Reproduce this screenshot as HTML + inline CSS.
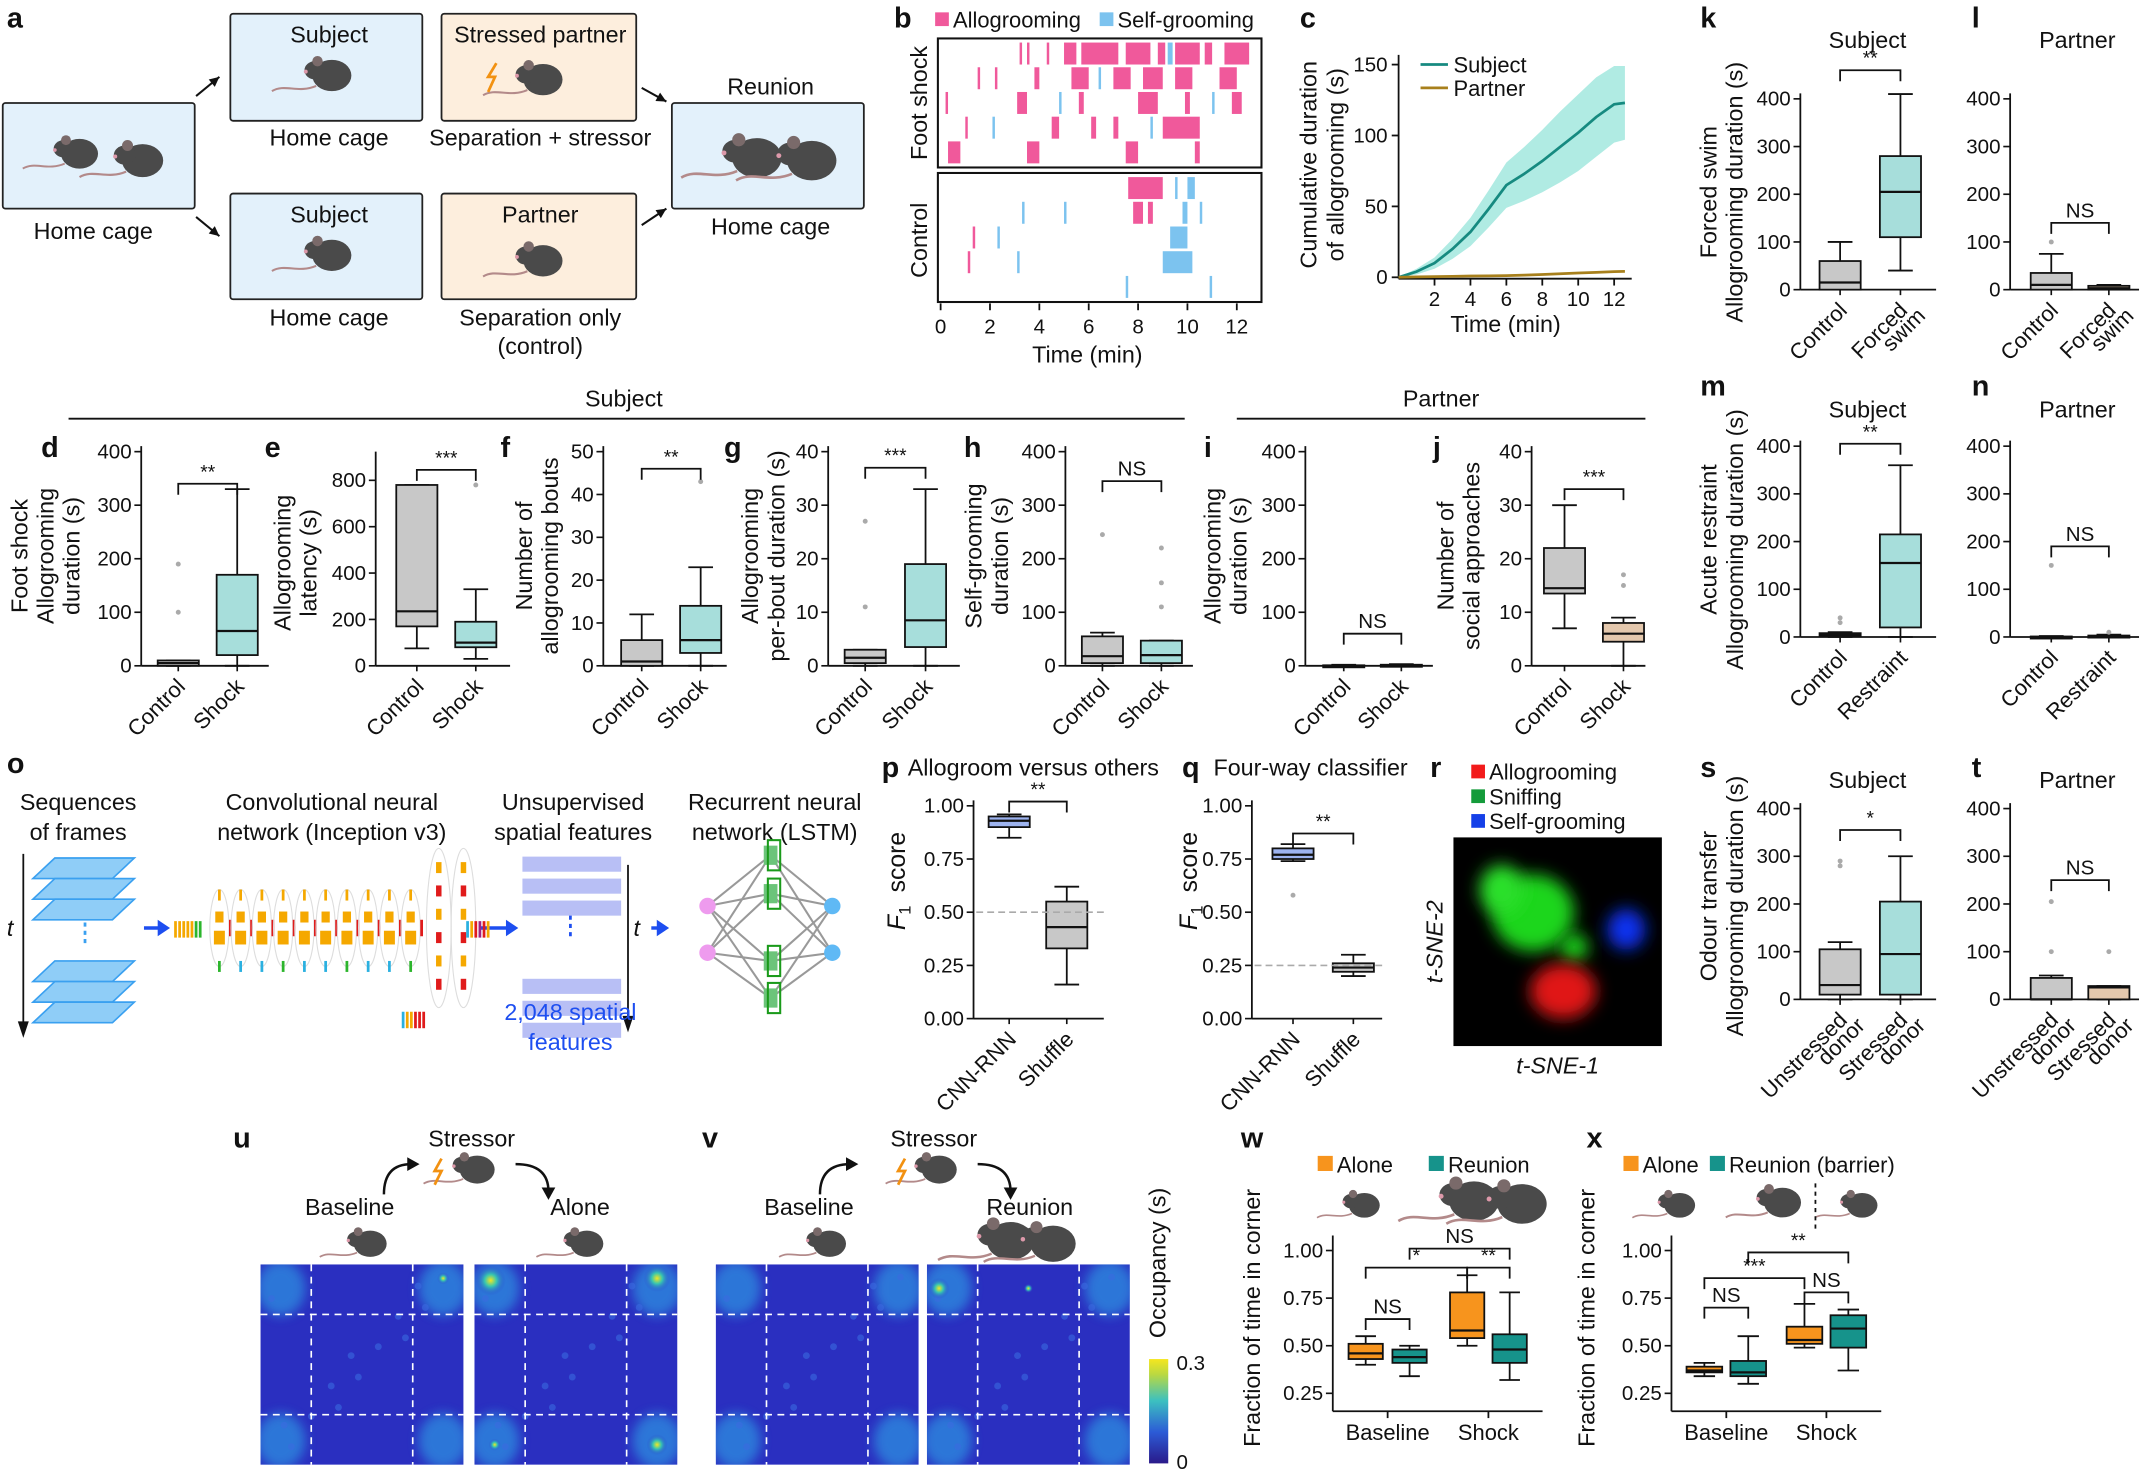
<!DOCTYPE html>
<html><head><meta charset="utf-8"><style>
html,body{margin:0;padding:0;background:#fff;}
svg{display:block;font-family:"Liberation Sans",sans-serif;}
</style></head><body>
<svg id="fig" xmlns="http://www.w3.org/2000/svg" width="2150" height="1473" viewBox="0 0 1568 1073" preserveAspectRatio="none">
<defs>
<filter id="blur8" x="-50%" y="-50%" width="200%" height="200%"><feGaussianBlur stdDeviation="6"/></filter>
<filter id="blur3" x="-50%" y="-50%" width="200%" height="200%"><feGaussianBlur stdDeviation="4"/></filter>
<linearGradient id="viridis" x1="0" y1="1" x2="0" y2="0"><stop offset="0" stop-color="#2a1a8a"/><stop offset="0.3" stop-color="#2c5bd6"/><stop offset="0.6" stop-color="#3cc0c0"/><stop offset="0.85" stop-color="#b9d842"/><stop offset="1" stop-color="#f5e61f"/></linearGradient>
<radialGradient id="hot"><stop offset="0" stop-color="#f3e622"/><stop offset="0.4" stop-color="#37c6b0"/><stop offset="1" stop-color="#2a3fd0" stop-opacity="0"/></radialGradient>
</defs>
</svg>
<script>
const NS='http://www.w3.org/2000/svg';
const svg=document.getElementById('fig');
function el(tag,attrs,parent){const e=document.createElementNS(NS,tag);for(const k in attrs)e.setAttribute(k,attrs[k]);(parent||svg).appendChild(e);return e;}
function txt(x,y,s,size,opts){const o=Object.assign({x:x,y:y,'font-size':size,fill:'#111'},opts||{});const t=el('text',o);t.textContent=s;return t;}
function line(x1,y1,x2,y2,st,w,extra){return el('line',Object.assign({x1:x1,y1:y1,x2:x2,y2:y2,stroke:st||'#111','stroke-width':w||1.3},extra||{}));}

// ---------- panel letters ----------
const letters=[['a',5,20],['b',652,20],['c',948,20],['k',1240,20],['l',1438,20],['d',30,333],['e',193,333],['f',365,333],['g',528,333],['h',703,333],['i',878,333],['j',1045,333],['m',1240,288],['n',1438,288],['o',5,563],['p',643,566],['q',862,566],['r',1043,566],['s',1240,566],['t',1438,566],['u',170,836],['v',512,836],['w',905,836],['x',1157,836]];
letters.forEach(l=>{const t=txt(l[1],l[2],l[0],21,{'font-weight':'bold'});

});

// ---------- mouse icon ----------
function mouse(x,y,s,col,flip){const g=el('g',{transform:`translate(${x},${y}) scale(${flip?-s:s},${s})`});
el('path',{d:'M-12,8 C-26,14 -36,6 -46,12',stroke:'#b38a8a','stroke-width':1.6,fill:'none'},g);
el('ellipse',{cx:0,cy:0,rx:15,ry:12,fill:col||'#4a4a4a'},g);
el('ellipse',{cx:-13,cy:-4,rx:8,ry:7,fill:col||'#4a4a4a'},g);
el('circle',{cx:-11,cy:-11,r:4,fill:'#7a6a6a'},g);
el('circle',{cx:-20,cy:-3,r:1.5,fill:'#d9a'},g);
return g;}

// ---------- panel a ----------
const aBoxes=[[2,75,140,77,'#e3f1fb','home-cage-box'],[168,10,140,78,'#e3f1fb','subject-top-box'],[322,10,142,78,'#fdeedd','stressed-partner-box'],[168,141,140,77,'#e3f1fb','subject-bottom-box'],[322,141,142,77,'#fdeedd','partner-box'],[490,75,140,77,'#e3f1fb','reunion-box']];
aBoxes.forEach(b=>{const r=el('rect',{x:b[0],y:b[1],width:b[2],height:b[3],fill:b[4],stroke:'#222','stroke-width':1.3,rx:2});

});
mouse(58,112,0.9);mouse(104,117,1);mouse(242,55,0.95);mouse(396,58,0.95);mouse(242,186,0.95);mouse(396,190,0.95);
mouse(552,115,1.2);mouse(592,117,1.2);
el('path',{d:'M362,46 l-6,10 h5 l-5,11',stroke:'#f29111','stroke-width':2,fill:'none'});
txt(240,31,'Subject',17,{'text-anchor':'middle'});txt(394,31,'Stressed partner',17,{'text-anchor':'middle'});
txt(240,106,'Home cage',17,{'text-anchor':'middle'});txt(394,106,'Separation + stressor',17,{'text-anchor':'middle'});
txt(240,162,'Subject',17,{'text-anchor':'middle'});txt(394,162,'Partner',17,{'text-anchor':'middle'});
txt(240,237,'Home cage',17,{'text-anchor':'middle'});txt(394,237,'Separation only',17,{'text-anchor':'middle'});txt(394,258,'(control)',17,{'text-anchor':'middle'});
txt(68,174,'Home cage',17,{'text-anchor':'middle'});txt(562,69,'Reunion',17,{'text-anchor':'middle'});txt(562,171,'Home cage',17,{'text-anchor':'middle'});
[[143,70,160,56],[143,158,160,172],[468,64,486,74],[468,164,486,152]].forEach(a=>{line(a[0],a[1],a[2],a[3],'#111',1.5);
const ang=Math.atan2(a[3]-a[1],a[2]-a[0]);const hx=a[2],hy=a[3];
el('path',{d:`M${hx},${hy} L${hx-8*Math.cos(ang-0.45)},${hy-8*Math.sin(ang-0.45)} L${hx-8*Math.cos(ang+0.45)},${hy-8*Math.sin(ang+0.45)}Z`,fill:'#111'});});

// ---------- panel b raster ----------
const bShockPink=[[[3.2,3.3],[3.5,3.6],[4.3,4.4],[5.0,5.5],[5.7,7.2],[7.5,8.5],[8.8,9.1],[9.5,10.5],[10.7,11.0],[11.5,12.5]],[[1.5,1.6],[2.2,2.3],[3.8,4.0],[5.3,6.0],[7.0,7.7],[8.2,9.0],[9.5,10.2],[11.3,12.0]],[[0.2,0.3],[3.1,3.5],[5.6,5.8],[8.0,8.8],[9.9,10.1],[11.8,12.2]],[[1.0,1.1],[4.5,4.8],[6.1,6.3],[7.0,7.2],[9.0,10.5]],[[0.3,0.8],[3.5,4.0],[7.5,8.0],[10.3,10.5]]];
const bShockBlue=[[[9.2,9.4]],[[6.4,6.5]],[[4.8,4.9],[11.0,11.1]],[[2.1,2.2],[8.5,8.6]],[]];
const bCtrlPink=[[[7.6,9.0]],[[7.8,8.2],[8.4,8.6]],[[1.3,1.4]],[[1.1,1.2]],[]];
const bCtrlBlue=[[[9.5,9.6],[10.0,10.3]],[[3.3,3.4],[5.0,5.1],[9.8,10.0],[10.5,10.6]],[[2.3,2.4],[9.3,10.0]],[[3.1,3.2],[9.0,10.2]],[[7.5,7.6],[10.9,11.0]]];
const bTicks=[0,2,4,6,8,10,12];
const bx=t=>686+t*18;
function raster(pink,blue,top,name){const g=el('g',{});


el('rect',{x:684,y:top,width:236,height:94,fill:'#fff',stroke:'#111','stroke-width':1.5},g);
[[pink,'#f0599b'],[blue,'#7cc3ef']].forEach(([set,c])=>set.forEach((row,i)=>row.forEach(iv=>{
el('rect',{x:bx(iv[0]),y:top+3+i*18,width:Math.max(1.2,(iv[1]-iv[0])*18),height:16,fill:c},g);})));}
raster(bShockPink,bShockBlue,28,'raster-foot-shock');raster(bCtrlPink,bCtrlBlue,126,'raster-control');
bTicks.forEach(t=>{line(bx(t),221,bx(t),226);txt(bx(t),243,String(t),15,{'text-anchor':'middle'});});
txt(793,264,'Time (min)',17,{'text-anchor':'middle'});
txt(676,75,'Foot shock',17,{'text-anchor':'middle',transform:'rotate(-90 676 75)'});
txt(676,175,'Control',17,{'text-anchor':'middle',transform:'rotate(-90 676 175)'});
el('rect',{x:682,y:9,width:10,height:10,fill:'#f0599b'});txt(695,20,'Allogrooming',16);
el('rect',{x:802,y:9,width:10,height:10,fill:'#7cc3ef'});txt(815,20,'Self-grooming',16);

// ---------- panel c line chart ----------
const cTimes=[0,1,2,3,4,5,6,7,8,9,10,11,12,12.6];
const cSubject=[0,4,10,20,32,48,65,73,82,92,102,113,122,123];
const cSubjectSem=[0,2,4,7,10,13,16,19,22,25,27,28,27,26];
const cPartner=[0,0.3,0.5,0.7,0.9,1,1.2,1.5,2,2.5,3,3.5,4,4.2];
const cXTicks=[2,4,6,8,10,12];
const cYTicks=[0,50,100,150];
const cx=t=>1020+t*13.1, cy=v=>202-v*1.033;
line(1020,40,1020,203);line(1020,203,1190,203);
cXTicks.forEach(t=>{line(cx(t),203,cx(t),208);txt(cx(t),223,String(t),15,{'text-anchor':'middle'});});
cYTicks.forEach(v=>{line(1015,cy(v),1020,cy(v));txt(1012,cy(v)+5,String(v),15,{'text-anchor':'end'});});
{let up=cTimes.map((t,i)=>`${cx(t)},${cy(cSubject[i]+cSubjectSem[i])}`),dn=cTimes.map((t,i)=>`${cx(t)},${cy(Math.max(0,cSubject[i]-cSubjectSem[i]))}`).reverse();
const band=el('polygon',{points:up.concat(dn).join(' '),fill:'#8fe3d7',opacity:0.7});


const ls=el('polyline',{points:cTimes.map((t,i)=>`${cx(t)},${cy(cSubject[i])}`).join(' '),fill:'none',stroke:'#168a80','stroke-width':2});


const lp=el('polyline',{points:cTimes.map((t,i)=>`${cx(t)},${cy(cPartner[i])}`).join(' '),fill:'none',stroke:'#a8801c','stroke-width':2});

}
txt(1098,242,'Time (min)',17,{'text-anchor':'middle'});
txt(960,120,'Cumulative duration',17,{'text-anchor':'middle',transform:'rotate(-90 960 120)'});
txt(980,120,'of allogrooming (s)',17,{'text-anchor':'middle',transform:'rotate(-90 980 120)'});
line(1036,47,1056,47,'#168a80',2);txt(1060,53,'Subject',16);
line(1036,64,1056,64,'#a8801c',2);txt(1060,70,'Partner',16);

// ---------- section header lines ----------
line(50,305,864,305,'#111',1.3);txt(455,296,'Subject',17,{'text-anchor':'middle'});
line(902,305,1200,305,'#111',1.3);txt(1051,296,'Partner',17,{'text-anchor':'middle'});

// ---------- box plot helper ----------
function boxPanel(name,cfg,cats,stats,outs,colors,ticks){
const g=el('g',{});


const ys=v=>cfg.y0-(v-cfg.vmin)/(cfg.vmax-cfg.vmin)*(cfg.y0-cfg.y1);
const base=cfg.y0+(cfg.gap||0);
el('line',{x1:cfg.ax,y1:cfg.y1-4,x2:cfg.ax,y2:base,stroke:'#111','stroke-width':1.3},g);
el('line',{x1:cfg.ax,y1:base,x2:cfg.xend,y2:base,stroke:'#111','stroke-width':1.3},g);
ticks.forEach(v=>{el('line',{x1:cfg.ax-5,y1:ys(v),x2:cfg.ax,y2:ys(v),stroke:'#111','stroke-width':1.2},g);
const t=el('text',{x:cfg.ax-7,y:ys(v)+5,'font-size':cfg.fs||15,'text-anchor':'end',fill:'#111'},g);t.textContent=cfg.fmt?cfg.fmt(v):String(v);});
const w=cfg.bw||30;
cats.forEach((c,i)=>{const x=cfg.cx[i],s=stats[i];
if(cfg.rot!==false)el('line',{x1:x,y1:base,x2:x,y2:base+4,stroke:'#111','stroke-width':1.2},g);
el('line',{x1:x,y1:ys(s[0]),x2:x,y2:ys(s[4]),stroke:'#111','stroke-width':1.3},g);
el('line',{x1:x-w*0.3,y1:ys(s[0]),x2:x+w*0.3,y2:ys(s[0]),stroke:'#111','stroke-width':1.3},g);
el('line',{x1:x-w*0.3,y1:ys(s[4]),x2:x+w*0.3,y2:ys(s[4]),stroke:'#111','stroke-width':1.3},g);
const b=el('rect',{x:x-w/2,y:ys(s[3]),width:w,height:Math.max(1.5,ys(s[1])-ys(s[3])),fill:colors[i],stroke:'#111','stroke-width':1.3},g);


el('line',{x1:x-w/2,y1:ys(s[2]),x2:x+w/2,y2:ys(s[2]),stroke:'#111','stroke-width':1.6},g);
(outs[i]||[]).forEach(o=>el('circle',{cx:x,cy:ys(o),r:1.8,fill:'#aaa'},g));
if(cfg.rot!==false){const lines=c.split('|');lines.forEach((ln,k)=>{const tx=x+6+k*13,ty=base+16+k*4;
const t=el('text',{x:tx,y:ty,'font-size':cfg.lfs||16,'text-anchor':'end',fill:'#111',transform:`rotate(-45 ${tx} ${ty})`},g);t.textContent=ln;});}
});
if(cfg.sig){cfg.sig.forEach(sg=>{const yy=ys(sg[2]);
el('path',{d:`M${sg[0]},${yy+8} V${yy} H${sg[1]} V${yy+8}`,fill:'none',stroke:'#111','stroke-width':1.3},g);
const t=el('text',{x:(sg[0]+sg[1])/2,y:yy-4,'font-size':sg[3]==='NS'?15:14,'text-anchor':'middle',fill:'#111'},g);t.textContent=sg[3];});}
(cfg.ytitle||[]).forEach((tl,k)=>{const tx=cfg.tx+k*19,ty=cfg.ty;
const t=el('text',{x:tx,y:ty,'font-size':17,'text-anchor':'middle',fill:'#111',transform:`rotate(-90 ${tx} ${ty})`},g);t.textContent=tl;});
return ys;}
const GRAY='#c8c8c8',TEAL='#a7dedb',TAN='#e4c8ad',ORANGE='#f7941d',DTEAL='#16938b';
const t400=[0,100,200,300,400],t800=[0,200,400,600,800],t50=[0,10,20,30,40,50],t40=[0,10,20,30,40];

// d
const dCats=['Control','Shock'];const dStats=[[0,0,5,10,10],[0,20,65,170,330]];const dOuts=[[100,190],[]];
boxPanel('panel-d-boxplot',{ax:103,xend:196,y0:485,y1:329,vmin:0,vmax:400,cx:[130,173],sig:[[130,173,340,'**']],ytitle:['Foot shock','Allogrooming','duration (s)'],tx:20,ty:405},dCats,dStats,dOuts,[GRAY,TEAL],t400);
// e
const eCats=['Control','Shock'];const eStats=[[75,170,235,780,780],[30,80,100,190,330]];const eOuts=[[],[780]];
boxPanel('panel-e-boxplot',{ax:274,xend:372,y0:485,y1:333,vmin:0,vmax:900,cx:[304,347],sig:[[304,347,845,'***']],ytitle:['Allogrooming','latency (s)'],tx:212,ty:410},eCats,eStats,eOuts,[GRAY,TEAL],t800);
// f
const fCats=['Control','Shock'];const fStats=[[0,0,1,6,12],[0,3,6,14,23]];const fOuts=[[],[43]];
boxPanel('panel-f-boxplot',{ax:440,xend:530,y0:485,y1:329,vmin:0,vmax:50,cx:[468,511],sig:[[468,511,46,'**']],ytitle:['Number of','allogrooming bouts'],tx:388,ty:405},fCats,fStats,fOuts,[GRAY,TEAL],t50);
// g
const gCats=['Control','Shock'];const gStats=[[0,0.5,1.5,3,3],[0,3.5,8.5,19,33]];const gOuts=[[11,27],[]];
boxPanel('panel-g-boxplot',{ax:604,xend:700,y0:485,y1:329,vmin:0,vmax:40,cx:[631,675],sig:[[631,675,37,'***']],ytitle:['Allogrooming','per-bout duration (s)'],tx:553,ty:405},gCats,gStats,gOuts,[GRAY,TEAL],t40);
// h
const hCats=['Control','Shock'];const hStats=[[0,5,18,55,62],[0,5,20,47,47]];const hOuts=[[245],[110,155,220]];
boxPanel('panel-h-boxplot',{ax:777,xend:870,y0:485,y1:329,vmin:0,vmax:400,cx:[804,847],sig:[[804,847,345,'NS']],ytitle:['Self-grooming','duration (s)'],tx:716,ty:405},hCats,hStats,hOuts,[GRAY,TEAL],t400);
// i
const iCats=['Control','Shock'];const iStats=[[0,0,0,1,2],[0,0,0,2,3]];const iOuts=[[],[]];
boxPanel('panel-i-boxplot',{ax:952,xend:1045,y0:485,y1:329,vmin:0,vmax:400,cx:[980,1022],sig:[[980,1022,60,'NS']],ytitle:['Allogrooming','duration (s)'],tx:890,ty:405},iCats,iStats,iOuts,[GRAY,TAN],t400);
// j
const jCats=['Control','Shock'];const jStats=[[7,13.5,14.5,22,30],[0,4.5,6,8,9]];const jOuts=[[],[15,17]];
boxPanel('panel-j-boxplot',{ax:1117,xend:1200,y0:485,y1:329,vmin:0,vmax:40,cx:[1141,1184],sig:[[1141,1184,33,'***']],ytitle:['Number of','social approaches'],tx:1060,ty:405},jCats,jStats,jOuts,[GRAY,TAN],t40);
// k
const kCats=['Control','Forced|swim'];const kStats=[[0,0,15,60,100],[40,110,205,280,410]];const kOuts=[[],[]];
boxPanel('panel-k-boxplot',{ax:1313,xend:1412,y0:211,y1:72,vmin:0,vmax:400,cx:[1342,1386],sig:[[1342,1386,460,'**']],ytitle:['Forced swim','Allogrooming duration (s)'],tx:1252,ty:140},kCats,kStats,kOuts,[GRAY,TEAL],t400);
txt(1362,35,'Subject',17,{'text-anchor':'middle'});
// l
const lCats=['Control','Forced|swim'];const lStats=[[0,0,10,35,75],[0,0,3,8,10]];const lOuts=[[100],[]];
boxPanel('panel-l-boxplot',{ax:1466,xend:1560,y0:211,y1:72,vmin:0,vmax:400,cx:[1496,1538],sig:[[1496,1538,140,'NS']],ytitle:[],tx:0,ty:0},lCats,lStats,lOuts,[GRAY,TAN],t400);
txt(1515,35,'Partner',17,{'text-anchor':'middle'});
// m
const mCats=['Control','Restraint'];const mStats=[[0,2,5,8,10],[0,20,155,215,360]];const mOuts=[[30,40],[]];
boxPanel('panel-m-boxplot',{ax:1313,xend:1412,y0:464,y1:325,vmin:0,vmax:400,cx:[1342,1386],sig:[[1342,1386,405,'**']],ytitle:['Acute restraint','Allogrooming duration (s)'],tx:1252,ty:393},mCats,mStats,mOuts,[GRAY,TEAL],t400);
txt(1362,304,'Subject',17,{'text-anchor':'middle'});
// n
const nCats=['Control','Restraint'];const nStats=[[0,0,0,1,2],[0,0,1,3,5]];const nOuts=[[150],[10]];
boxPanel('panel-n-boxplot',{ax:1466,xend:1560,y0:464,y1:325,vmin:0,vmax:400,cx:[1496,1538],sig:[[1496,1538,190,'NS']],ytitle:[],tx:0,ty:0},nCats,nStats,nOuts,[GRAY,TAN],t400);
txt(1515,304,'Partner',17,{'text-anchor':'middle'});
// s
const sCats=['Unstressed|donor','Stressed|donor'];const sStats=[[0,10,30,105,120],[0,10,95,205,300]];const sOuts=[[280,290],[]];
boxPanel('panel-s-boxplot',{ax:1313,xend:1412,y0:728,y1:589,vmin:0,vmax:400,cx:[1342,1386],sig:[[1342,1386,355,'*']],ytitle:['Odour transfer','Allogrooming duration (s)'],tx:1252,ty:660},sCats,sStats,sOuts,[GRAY,TEAL],t400);
txt(1362,574,'Subject',17,{'text-anchor':'middle'});
// t
const tCats=['Unstressed|donor','Stressed|donor'];const tStats=[[0,0,0,45,50],[0,0,25,28,28]];const tOuts=[[100,205],[100]];
boxPanel('panel-t-boxplot',{ax:1466,xend:1560,y0:728,y1:589,vmin:0,vmax:400,cx:[1496,1538],sig:[[1496,1538,250,'NS']],ytitle:[],tx:0,ty:0},tCats,tStats,tOuts,[GRAY,TAN],t400);
txt(1515,574,'Partner',17,{'text-anchor':'middle'});

// p
const f1Ticks=[0,0.25,0.5,0.75,1];const fmt2=v=>v.toFixed(2);
const pCats=['CNN-RNN','Shuffle'];const pStats=[[0.85,0.9,0.93,0.95,0.96],[0.16,0.33,0.43,0.55,0.62]];const pOuts=[[],[]];
const pys=boxPanel('panel-p-boxplot',{ax:710,xend:805,y0:742,y1:587,vmin:0,vmax:1,cx:[736,778],fmt:fmt2,sig:[[736,778,1.02,'**']],ytitle:[],tx:0,ty:0},pCats,pStats,pOuts,['#9db3ef',GRAY],f1Ticks);
line(712,pys(0.5),805,pys(0.5),'#aaa',1.2,{'stroke-dasharray':'5,3'});
txt(662,565,'Allogroom versus others',17);
function f1title(x){txt(x,672,'F',18,{'font-style':'italic',transform:`rotate(-90 ${x} 672)`,'text-anchor':'middle'});
txt(x+4,663,'1',12,{transform:`rotate(-90 ${x+4} 663)`,'text-anchor':'middle'});
txt(x,628,'score',18,{transform:`rotate(-90 ${x} 628)`,'text-anchor':'middle'});}
f1title(660);
// q
const qCats=['CNN-RNN','Shuffle'];const qStats=[[0.74,0.75,0.77,0.8,0.82],[0.2,0.22,0.24,0.26,0.3]];const qOuts=[[0.58],[]];
const qys=boxPanel('panel-q-boxplot',{ax:913,xend:1008,y0:742,y1:587,vmin:0,vmax:1,cx:[943,987],fmt:fmt2,sig:[[943,987,0.87,'**']],ytitle:[],tx:0,ty:0},qCats,qStats,qOuts,['#9db3ef',GRAY],f1Ticks);
line(915,qys(0.25),1008,qys(0.25),'#aaa',1.2,{'stroke-dasharray':'5,3'});
txt(885,565,'Four-way classifier',17);
f1title(873);

// r t-SNE
{const r=el('rect',{x:1060,y:610,width:152,height:152,fill:'#000'});


el('ellipse',{cx:1118,cy:665,rx:30,ry:28,fill:'#1fd61f',filter:'url(#blur8)'});
el('ellipse',{cx:1095,cy:648,rx:16,ry:18,fill:'#2ae02a',filter:'url(#blur8)'});
el('ellipse',{cx:1148,cy:690,rx:10,ry:10,fill:'#1fd61f',filter:'url(#blur8)'});
el('ellipse',{cx:1186,cy:677,rx:14,ry:15,fill:'#1030f0',filter:'url(#blur8)'});
el('ellipse',{cx:1140,cy:722,rx:24,ry:20,fill:'#e01515',filter:'url(#blur8)'});
el('rect',{x:1073,y:557,width:10,height:10,fill:'#f21b1b'});txt(1086,568,'Allogrooming',16);
el('rect',{x:1073,y:575,width:10,height:10,fill:'#149b3a'});txt(1086,586,'Sniffing',16);
el('rect',{x:1073,y:593,width:10,height:10,fill:'#1540e8'});txt(1086,604,'Self-grooming',16);
txt(1136,782,'t-SNE-1',17,{'text-anchor':'middle','font-style':'italic'});
txt(1052,686,'t-SNE-2',17,{'text-anchor':'middle','font-style':'italic',transform:'rotate(-90 1052 686)'});}

// o schematic
{const g=el('g',{});


[['Sequences',57,590],['of frames',57,612],['Convolutional neural',242,590],['network (Inception v3)',242,612],['Unsupervised',418,590],['spatial features',418,612],['Recurrent neural',565,590],['network (LSTM)',565,612]].forEach(s=>txt(s[1],s[2],s[0],17,{'text-anchor':'middle'}));
[625,640,655,700,715,730].forEach(y=>el('path',{d:`M40,${y} L98,${y} L82,${y+15} L24,${y+15}Z`,fill:'#8fcdf7',stroke:'#3aa0f0','stroke-width':1.2}));
line(17,622,17,752,'#111',1.3);el('path',{d:'M13,744 L17,756 L21,744Z',fill:'#111'});txt(5,682,'t',17,{'font-style':'italic'});
line(62,672,62,690,'#3aa0f0',2,{'stroke-dasharray':'3,3'});
[[105,118],[350,372],[475,482]].forEach(a=>{line(a[0],676,a[1],676,'#1d4ef0',2.5);el('path',{d:`M${a[1]+6},676 L${a[1]-3},670 L${a[1]-3},682Z`,fill:'#1d4ef0'});});
for(let i=0;i<10;i++){const x=160+i*15.5;el('ellipse',{cx:x,cy:676,rx:7,ry:28,fill:'none',stroke:'#ddd','stroke-width':0.8});
el('rect',{x:x-3,y:664,width:6,height:8,fill:'#f5a800'});el('rect',{x:x-4,y:678,width:8,height:10,fill:'#f5a800'});
el('rect',{x:x-1,y:648,width:2,height:8,fill:'#f5a800'});el('rect',{x:x-1,y:700,width:2,height:8,fill:i%3?'#2ab0e0':'#2cb52c'});
el('rect',{x:x+7,y:670,width:2,height:12,fill:'#e01b1b'});}
[320,338].forEach(x=>{el('ellipse',{cx:x,cy:676,rx:9,ry:58,fill:'none',stroke:'#ddd','stroke-width':0.8});for(let k=0;k<6;k++)el('rect',{x:x-2,y:628+k*17,width:4,height:8,fill:k%2?'#e01b1b':'#f5a800'});});
for(let k=0;k<7;k++)el('rect',{x:127+k*3,y:671,width:2,height:12,fill:k>4?'#2cb52c':'#f5a800'});
for(let k=0;k<6;k++)el('rect',{x:345+k*3-5,y:671,width:2,height:12,fill:['#2ab0e0','#f5a800','#e01b1b','#a02080','#e01b1b','#f5a800'][k]});
for(let k=0;k<6;k++)el('rect',{x:293+k*3,y:737,width:2,height:12,fill:['#2ab0e0','#f5a800','#f5a800','#e01b1b','#e01b1b','#e01b1b'][k]});
[626,642,658,715,731,747].forEach(y=>el('rect',{x:381,y:y-2,width:72,height:11,fill:'#b8bff5'}));
line(416,667,416,685,'#1d4ef0',2,{'stroke-dasharray':'3,3'});
line(458,630,458,746,'#111',1.3);el('path',{d:'M454,740 L458,752 L462,740Z',fill:'#111'});txt(462,682,'t',17,{'font-style':'italic'});
txt(416,743,'2,048 spatial',17,{'text-anchor':'middle',fill:'#1d4ef0'});txt(416,765,'features',17,{'text-anchor':'middle',fill:'#1d4ef0'});
const L=[[516,660],[516,694]],M=[[562,623],[562,651],[562,700],[562,727]],R=[[607,660],[607,694]];
L.forEach(a=>M.forEach(b=>line(a[0],a[1],b[0],b[1],'#999',1.5)));M.forEach(a=>R.forEach(b=>line(a[0],a[1],b[0],b[1],'#999',1.5)));
L.forEach(a=>el('circle',{cx:a[0],cy:a[1],r:6,fill:'#ee9bee'}));R.forEach(a=>el('circle',{cx:a[0],cy:a[1],r:6,fill:'#5fb9f5'}));
M.forEach(a=>{el('rect',{x:a[0]-5,y:a[1]-7,width:10,height:14,fill:'#6cc47a'});el('rect',{x:a[0]-2,y:a[1]-11,width:9,height:22,fill:'none',stroke:'#1a9a1a','stroke-width':1.5});});}

// ---------- u, v heatmaps ----------
const HT=921,HH=146;
const hmPanels=[[190,HT,'heatmap-baseline-u',[[0.9,0.07,0.4]]],[346,HT,'heatmap-alone',[[0.08,0.08,1],[0.9,0.07,0.9],[0.9,0.9,0.7],[0.1,0.9,0.4]]],[522,HT,'heatmap-baseline-v',[]],[676,HT,'heatmap-reunion',[[0.06,0.12,0.7],[0.5,0.12,0.3]]]];
hmPanels.forEach((p,pi)=>{const cp=el('clipPath',{id:'hmclip'+pi});el('rect',{x:p[0],y:p[1],width:148,height:HH},cp);
const g=el('g',{'clip-path':`url(#hmclip${pi})`});


el('rect',{x:p[0],y:p[1],width:148,height:HH,fill:'#2a2fc0'},g);
[[0.1,0.12],[0.9,0.12],[0.1,0.88],[0.9,0.88]].forEach(c=>el('ellipse',{cx:p[0]+c[0]*148,cy:p[1]+c[1]*HH,rx:18,ry:20,fill:'#2e8fe0',opacity:0.75,filter:'url(#blur3)'},g));
for(let k=0;k<14;k++){const fx=((k*37)%100)/100,fy=((k*61+13)%100)/100;el('circle',{cx:p[0]+8+fx*132,cy:p[1]+8+fy*(HH-16),r:2.5,fill:'#3a6ae0',opacity:0.6},g);}
p[3].forEach(c=>el('circle',{cx:p[0]+c[0]*148,cy:p[1]+c[1]*HH,r:11*c[2],fill:'url(#hot)'},g));
[0.25,0.75].forEach(f=>{el('line',{x1:p[0]+f*148,y1:p[1],x2:p[0]+f*148,y2:p[1]+HH,stroke:'#fff','stroke-width':1.2,'stroke-dasharray':'5,4'},g);
el('line',{x1:p[0],y1:p[1]+f*HH,x2:p[0]+148,y2:p[1]+f*HH,stroke:'#fff','stroke-width':1.2,'stroke-dasharray':'5,4'},g);});});
el('rect',{x:838,y:990,width:14,height:76,fill:'url(#viridis)'});
txt(858,998,'0.3',15);txt(858,1070,'0',15);
txt(850,920,'Occupancy (s)',17,{'text-anchor':'middle',transform:'rotate(-90 850 920)'});
txt(344,835,'Stressor',17,{'text-anchor':'middle'});txt(255,885,'Baseline',17,{'text-anchor':'middle'});txt(423,885,'Alone',17,{'text-anchor':'middle'});
txt(681,835,'Stressor',17,{'text-anchor':'middle'});txt(590,885,'Baseline',17,{'text-anchor':'middle'});txt(751,885,'Reunion',17,{'text-anchor':'middle'});
mouse(348,852,0.85);mouse(270,906,0.8);mouse(428,906,0.8);mouse(685,852,0.85);mouse(605,906,0.8);mouse(737,904,1.15);mouse(768,906,1.1);
[[280,870,300,848],[598,870,620,848]].forEach(a=>{el('path',{d:`M${a[0]},${a[1]} Q${a[0]},${a[3]} ${a[2]},${a[3]}`,fill:'none',stroke:'#111','stroke-width':1.8});el('path',{d:`M${a[2]+6},${a[3]} L${a[2]-3},${a[3]-5} L${a[2]-3},${a[3]+5}Z`,fill:'#111'});});
[[376,848,400,868],[713,848,737,868]].forEach(a=>{el('path',{d:`M${a[0]},${a[1]} Q${a[2]},${a[1]} ${a[2]},${a[3]}`,fill:'none',stroke:'#111','stroke-width':1.8});el('path',{d:`M${a[2]},${a[3]+6} L${a[2]-5},${a[3]-3} L${a[2]+5},${a[3]-3}Z`,fill:'#111'});});
[[322,844],[660,844]].forEach(b=>el('path',{d:`M${b[0]},${b[1]} l-5,9 h5 l-5,10`,stroke:'#f29111','stroke-width':2,fill:'none'}));

// ---------- w, x grouped box plots ----------
const cornerTicks=[0.25,0.5,0.75,1];
function grouped(name,ax,cxs,stats,outs,sigs,legend2,tx,leg,bw){
const cats=['alone-baseline','reunion-baseline','alone-shock','reunion-shock'];
const ys=boxPanel(name,{ax:ax,xend:cxs[3]+24,y0:1028,y1:904,vmin:0.156,vmax:1.05,cx:cxs,bw:bw,fs:15,fmt:fmt2,rot:false,sig:sigs,ytitle:['Fraction of time in corner'],tx:tx,ty:960},cats,stats,outs,[ORANGE,DTEAL,ORANGE,DTEAL],cornerTicks);
const c1=(cxs[0]+cxs[1])/2,c2=(cxs[2]+cxs[3])/2;
line(c1,1028,c1,1033);line(c2,1028,c2,1033);
txt(c1,1049,'Baseline',16,{'text-anchor':'middle'});txt(c2,1049,'Shock',16,{'text-anchor':'middle'});
el('rect',{x:leg[0],y:842,width:11,height:11,fill:ORANGE});txt(leg[0]+14,854,'Alone',16);
el('rect',{x:leg[1],y:842,width:11,height:11,fill:DTEAL});txt(leg[1]+14,854,legend2,16);}
const wStats=[[0.4,0.43,0.46,0.51,0.55],[0.34,0.41,0.44,0.48,0.5],[0.5,0.54,0.58,0.78,0.87],[0.32,0.41,0.48,0.56,0.78]];
const wOuts=[[],[],[],[]];
grouped('panel-w-boxplot',972,[996,1028,1070,1101],wStats,wOuts,[[996,1028,0.64,'NS'],[996,1070,0.91,'*'],[1070,1101,0.91,'**'],[1028,1101,1.01,'NS']],'Reunion',919,[961,1042],25);
const xStats=[[0.34,0.36,0.37,0.39,0.41],[0.3,0.34,0.36,0.42,0.55],[0.49,0.51,0.53,0.6,0.72],[0.37,0.49,0.59,0.66,0.69]];
const xOuts=[[],[],[],[]];
grouped('panel-x-boxplot',1219,[1243,1275,1316,1348],xStats,xOuts,[[1243,1275,0.7,'NS'],[1243,1316,0.855,'***'],[1316,1348,0.78,'NS'],[1275,1348,0.99,'**']],'Reunion (barrier)',1163,[1184,1247],26);
mouse(995,878,0.75);mouse(1075,875,1.2);mouse(1110,877,1.2);mouse(1225,878,0.75);mouse(1300,876,0.9);mouse(1358,878,0.75);
line(1324,862,1324,897,'#111',1.3,{'stroke-dasharray':'3,3'});
</script>
</body></html>
